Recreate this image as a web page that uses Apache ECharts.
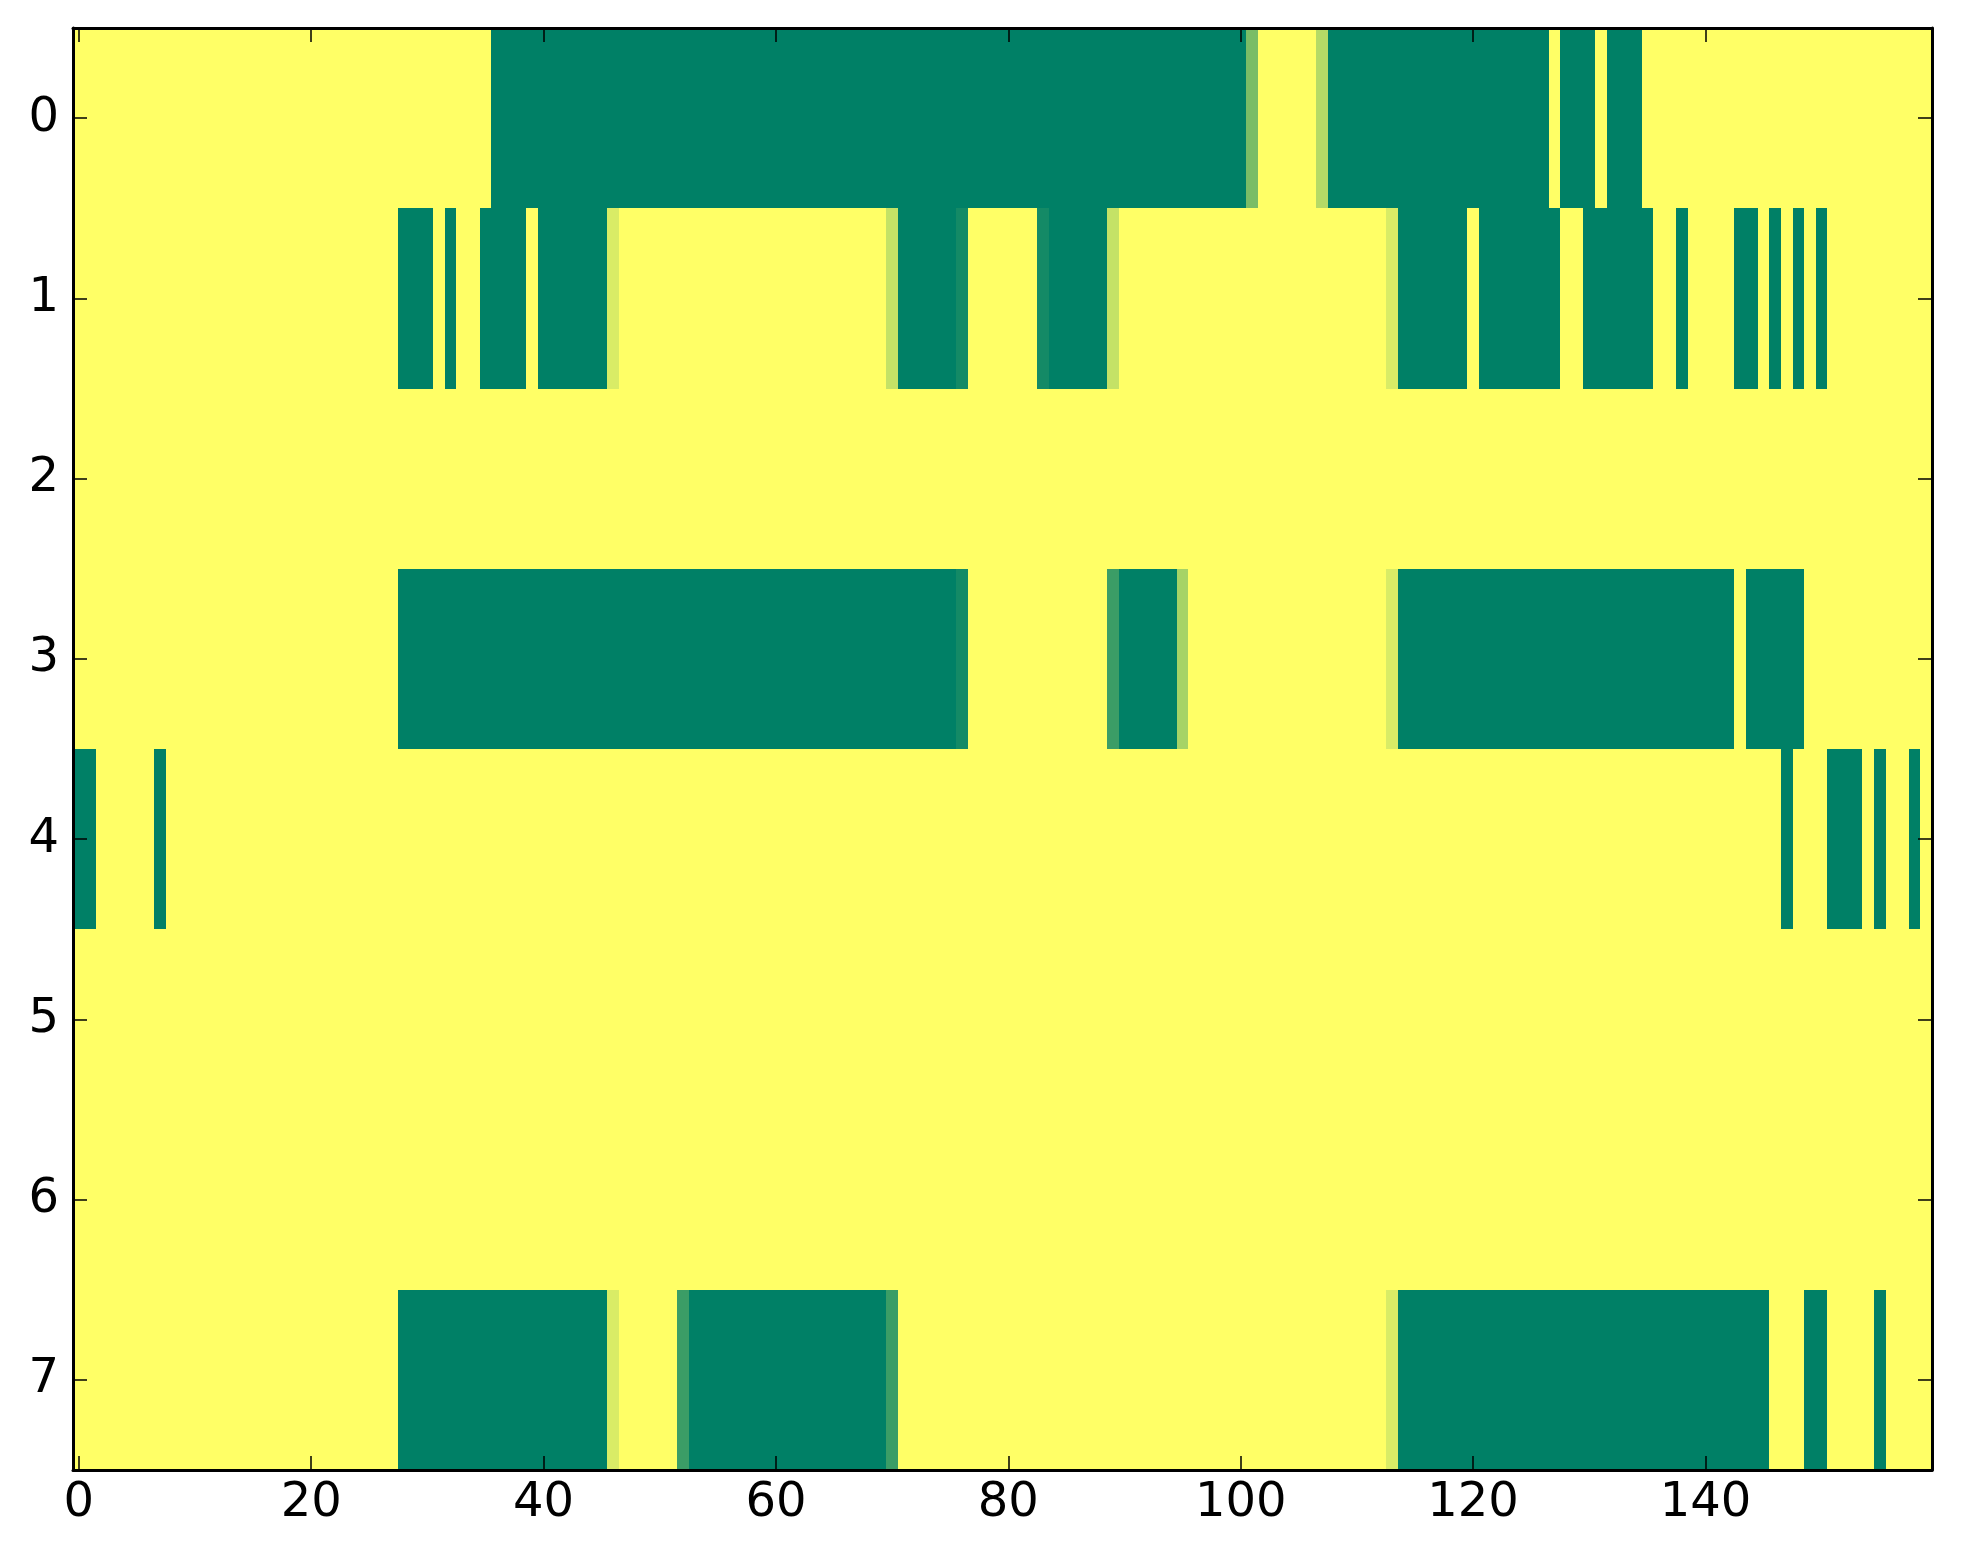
<!DOCTYPE html>
<html>
<head>
<meta charset="utf-8">
<script src="https://cdn.jsdelivr.net/npm/echarts@6/dist/echarts.min.js"></script>
<style>
html,body{margin:0;padding:0;background:#fff;}
#chart{width:1963px;height:1564px;}
</style>
</head>
<body>
<div id="chart"></div>
<script>
// Column categories 0..159 and tick labels
var nCols = 160;
var xCategories = [];
for (var c = 0; c < nCols; c++) xCategories.push(String(c));
var yCategories = ['0','1','2','3','4','5','6','7'];
var xTickLabels = ['0','20','40','60','80','100','120','140'];

// Row values (0 = green, 1 = yellow, summer colormap)
var row0 = [
1,1,1,1,1,1,1,1,1,1,1,1,1,1,1,1,1,1,1,1,
1,1,1,1,1,1,1,1,1,1,1,1,1,1,1,1,0,0,0,0,
0,0,0,0,0,0,0,0,0,0,0,0,0,0,0,0,0,0,0,0,
0,0,0,0,0,0,0,0,0,0,0,0,0,0,0,0,0,0,0,0,
0,0,0,0,0,0,0,0,0,0,0,0,0,0,0,0,0,0,0,0,
0,0.48,1,1,1,1,1,0.71,0,0,0,0,0,0,0,0,0,0,0,0,
0,0,0,0,0,0,0,1,0,0,0,1,0,0,0,1,1,1,1,1,
1,1,1,1,1,1,1,1,1,1,1,1,1,1,1,1,1,1,1,1];
var row1 = [
1,1,1,1,1,1,1,1,1,1,1,1,1,1,1,1,1,1,1,1,
1,1,1,1,1,1,1,1,0,0,0,1,0,1,1,0,0,0,0,1,
0,0,0,0,0,0,0.85,1,1,1,1,1,1,1,1,1,1,1,1,1,
1,1,1,1,1,1,1,1,1,1,0.77,0,0,0,0,0,0.08,1,1,1,
1,1,1,0.08,0,0,0,0,0,0.77,1,1,1,1,1,1,1,1,1,1,
1,1,1,1,1,1,1,1,1,1,1,1,1,0.85,0,0,0,0,0,0,
1,0,0,0,0,0,0,0,1,1,0,0,0,0,0,0,1,1,0,1,
1,1,1,0,0,1,0,1,0,1,0,1,1,1,1,1,1,1,1,1];
var row2 = [
1,1,1,1,1,1,1,1,1,1,1,1,1,1,1,1,1,1,1,1,
1,1,1,1,1,1,1,1,1,1,1,1,1,1,1,1,1,1,1,1,
1,1,1,1,1,1,1,1,1,1,1,1,1,1,1,1,1,1,1,1,
1,1,1,1,1,1,1,1,1,1,1,1,1,1,1,1,1,1,1,1,
1,1,1,1,1,1,1,1,1,1,1,1,1,1,1,1,1,1,1,1,
1,1,1,1,1,1,1,1,1,1,1,1,1,1,1,1,1,1,1,1,
1,1,1,1,1,1,1,1,1,1,1,1,1,1,1,1,1,1,1,1,
1,1,1,1,1,1,1,1,1,1,1,1,1,1,1,1,1,1,1,1];
var row3 = [
1,1,1,1,1,1,1,1,1,1,1,1,1,1,1,1,1,1,1,1,
1,1,1,1,1,1,1,1,0,0,0,0,0,0,0,0,0,0,0,0,
0,0,0,0,0,0,0,0,0,0,0,0,0,0,0,0,0,0,0,0,
0,0,0,0,0,0,0,0,0,0,0,0,0,0,0,0,0.08,1,1,1,
1,1,1,1,1,1,1,1,1,0.23,0,0,0,0,0,0.65,1,1,1,1,
1,1,1,1,1,1,1,1,1,1,1,1,1,0.85,0,0,0,0,0,0,
0,0,0,0,0,0,0,0,0,0,0,0,0,0,0,0,0,0,0,0,
0,0,0,1,0,0,0,0,0,1,1,1,1,1,1,1,1,1,1,1];
var row4 = [
0,0,1,1,1,1,1,0,1,1,1,1,1,1,1,1,1,1,1,1,
1,1,1,1,1,1,1,1,1,1,1,1,1,1,1,1,1,1,1,1,
1,1,1,1,1,1,1,1,1,1,1,1,1,1,1,1,1,1,1,1,
1,1,1,1,1,1,1,1,1,1,1,1,1,1,1,1,1,1,1,1,
1,1,1,1,1,1,1,1,1,1,1,1,1,1,1,1,1,1,1,1,
1,1,1,1,1,1,1,1,1,1,1,1,1,1,1,1,1,1,1,1,
1,1,1,1,1,1,1,1,1,1,1,1,1,1,1,1,1,1,1,1,
1,1,1,1,1,1,1,0,1,1,1,0,0,0,1,0,1,1,0,1];
var row5 = [
1,1,1,1,1,1,1,1,1,1,1,1,1,1,1,1,1,1,1,1,
1,1,1,1,1,1,1,1,1,1,1,1,1,1,1,1,1,1,1,1,
1,1,1,1,1,1,1,1,1,1,1,1,1,1,1,1,1,1,1,1,
1,1,1,1,1,1,1,1,1,1,1,1,1,1,1,1,1,1,1,1,
1,1,1,1,1,1,1,1,1,1,1,1,1,1,1,1,1,1,1,1,
1,1,1,1,1,1,1,1,1,1,1,1,1,1,1,1,1,1,1,1,
1,1,1,1,1,1,1,1,1,1,1,1,1,1,1,1,1,1,1,1,
1,1,1,1,1,1,1,1,1,1,1,1,1,1,1,1,1,1,1,1];
var row6 = [
1,1,1,1,1,1,1,1,1,1,1,1,1,1,1,1,1,1,1,1,
1,1,1,1,1,1,1,1,1,1,1,1,1,1,1,1,1,1,1,1,
1,1,1,1,1,1,1,1,1,1,1,1,1,1,1,1,1,1,1,1,
1,1,1,1,1,1,1,1,1,1,1,1,1,1,1,1,1,1,1,1,
1,1,1,1,1,1,1,1,1,1,1,1,1,1,1,1,1,1,1,1,
1,1,1,1,1,1,1,1,1,1,1,1,1,1,1,1,1,1,1,1,
1,1,1,1,1,1,1,1,1,1,1,1,1,1,1,1,1,1,1,1,
1,1,1,1,1,1,1,1,1,1,1,1,1,1,1,1,1,1,1,1];
var row7 = [
1,1,1,1,1,1,1,1,1,1,1,1,1,1,1,1,1,1,1,1,
1,1,1,1,1,1,1,1,0,0,0,0,0,0,0,0,0,0,0,0,
0,0,0,0,0,0,0.85,1,1,1,1,1,0.23,0,0,0,0,0,0,0,
0,0,0,0,0,0,0,0,0,0,0.23,1,1,1,1,1,1,1,1,1,
1,1,1,1,1,1,1,1,1,1,1,1,1,1,1,1,1,1,1,1,
1,1,1,1,1,1,1,1,1,1,1,1,1,0.85,0,0,0,0,0,0,
0,0,0,0,0,0,0,0,0,0,0,0,0,0,0,0,0,0,0,0,
0,0,0,0,0,0,1,1,1,0,0,1,1,1,1,0,1,1,1,1];

var rows = [row0, row1, row2, row3, row4, row5, row6, row7];

var cellData = [];
for (var r = 0; r < rows.length; r++) {
  for (var i = 0; i < rows[r].length; i++) {
    cellData.push([i, r, rows[r][i]]);
  }
}

var FONT = 'DejaVu Sans';
var LABEL_SIZE = 48;

function isXTick(idx) { return xTickLabels.indexOf(xCategories[idx]) >= 0; }

var axisLineStyle = { show: true, lineStyle: { color: '#000', width: 3 } };
var tickStyle = { color: '#000', width: 1.5 };

var chart = echarts.init(document.getElementById('chart'), null, { renderer: 'canvas' });
chart.setOption({
  backgroundColor: '#ffffff',
  animation: false,
  grid: { left: 73, top: 28, width: 1859, height: 1442, show: false, containLabel: false },
  xAxis: [
    {
      type: 'category', data: xCategories, position: 'bottom', boundaryGap: true, z: 10,
      axisLine: axisLineStyle,
      axisTick: { show: true, inside: true, length: 14, alignWithLabel: true, interval: isXTick, lineStyle: tickStyle },
      axisLabel: { show: true, interval: isXTick, fontSize: LABEL_SIZE, fontFamily: FONT, color: '#000', margin: 10 },
      splitLine: { show: false }
    },
    {
      type: 'category', data: xCategories, position: 'top', boundaryGap: true, z: 10,
      axisLine: axisLineStyle,
      axisTick: { show: true, inside: true, length: 14, alignWithLabel: true, interval: isXTick, lineStyle: tickStyle },
      axisLabel: { show: false },
      splitLine: { show: false }
    }
  ],
  yAxis: [
    {
      type: 'category', data: yCategories, position: 'left', inverse: true, boundaryGap: true, z: 10,
      axisLine: axisLineStyle,
      axisTick: { show: true, inside: true, length: 14, alignWithLabel: true, interval: 0, lineStyle: tickStyle },
      axisLabel: { show: true, interval: 0, fontSize: LABEL_SIZE, fontFamily: FONT, color: '#000', margin: 14 },
      splitLine: { show: false }
    },
    {
      type: 'category', data: yCategories, position: 'right', inverse: true, boundaryGap: true, z: 10,
      axisLine: axisLineStyle,
      axisTick: { show: true, inside: true, length: 14, alignWithLabel: true, interval: 0, lineStyle: tickStyle },
      axisLabel: { show: false },
      splitLine: { show: false }
    }
  ],
  visualMap: {
    type: 'continuous', show: false, min: 0, max: 1, dimension: 2, seriesIndex: 0,
    inRange: { color: ['#008066', '#ffff66'] }
  },
  series: [{
    type: 'custom',
    xAxisIndex: 0, yAxisIndex: 0,
    data: cellData,
    encode: { x: 0, y: 1 },
    clip: true,
    silent: true,
    renderItem: function (params, api) {
      var p = api.coord([api.value(0), api.value(1)]);
      var s = api.size([1, 1]);
      var x0 = Math.round(p[0] - s[0] / 2);
      var x1 = Math.round(p[0] + s[0] / 2);
      var y0 = Math.round(p[1] - s[1] / 2);
      var y1 = Math.round(p[1] + s[1] / 2);
      return {
        type: 'rect',
        shape: { x: x0, y: y0, width: x1 - x0 + 1, height: y1 - y0 + 1 },
        style: { fill: api.visual('color'), stroke: null, lineWidth: 0 }
      };
    }
  }]
});
</script>
</body>
</html>
